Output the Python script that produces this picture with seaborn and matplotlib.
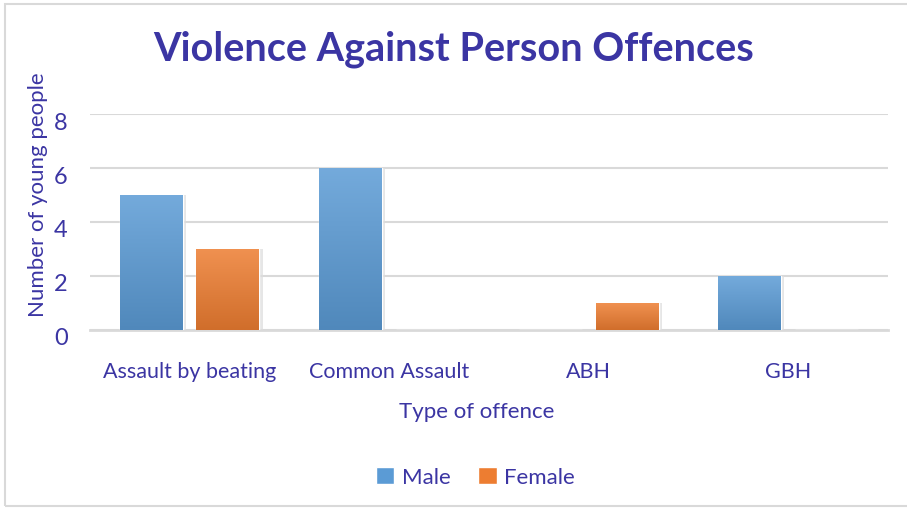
import matplotlib
matplotlib.use("Agg")
import matplotlib.pyplot as plt
import matplotlib.transforms as mtransforms
import seaborn as sns
import pandas as pd
import numpy as np
from matplotlib.patches import Rectangle

categories = ["Assault by beating", "Common Assault", "ABH", "GBH"]
male = [5, 6, 0, 2]
female = [3, 0, 1, 0]
series = ["Male", "Female"]
yticks = [0, 2, 4, 6, 8]

df = pd.DataFrame({
    "offence": categories * 2,
    "count": male + female,
    "sex": ["Male"] * len(categories) + ["Female"] * len(categories),
})

sns.set_theme(style="white")
plt.rcParams["font.family"] = ["Lato", "DejaVu Sans"]
txt = "#3b35a3"

fig = plt.figure(figsize=(9.07, 5.10), dpi=100)
ax = fig.add_axes([0.099, 0.351, 0.880, 0.4235])
palette = {"Male": "#5b9bd5", "Female": "#ed7d31"}
sns.barplot(data=df, x="offence", y="count", hue="sex", order=categories,
            hue_order=series, palette=palette, width=0.77, gap=0.18,
            saturation=1, ax=ax, legend=True, zorder=3)

# gradient overlay on bars
for p in ax.patches:
    h = p.get_height()
    if h <= 0:
        continue
    x0, w = p.get_x(), p.get_width()
    fc = np.array(p.get_facecolor()[:3])
    grad = np.linspace(0, 1, 64)[:, None]
    top = fc + (1 - fc) * 0.15
    bot = fc * 0.88
    img = top[None, None, :] * (1 - grad[..., None]) + bot[None, None, :] * grad[..., None]
    img = np.repeat(img, 2, axis=1)
    ax.imshow(img, extent=[x0, x0 + w, 0, h], aspect="auto", zorder=4, origin="upper")
    ax.add_patch(Rectangle((x0 + w * 0.98, 0), w * 0.07, h, color="#dcdcdc", alpha=0.7, zorder=2, lw=0))

ax.set_xlim(-0.5, 3.5)
ax.set_ylim(0, 8)
ax.set_yticks(yticks)
ax.set_yticklabels([str(v) for v in yticks])
ax.yaxis.grid(True, color="#d9d9d9", linewidth=1.5, zorder=0)
ax.set_axisbelow(True)
for s in ["top", "right", "left"]:
    ax.spines[s].set_visible(False)
ax.spines["bottom"].set_color("#d9d9d9")
ax.spines["bottom"].set_linewidth(2)
ax.spines["bottom"].set_zorder(1)
ax.tick_params(axis="x", length=0, labelsize=15.5, colors=txt, pad=22)
ax.tick_params(axis="y", length=0, labelsize=17, colors=txt, pad=16)
off = mtransforms.ScaledTranslation(0, -6 / 100, fig.dpi_scale_trans)
for lab in ax.get_yticklabels():
    lab.set_transform(lab.get_transform() + off)
ax.set_xlabel("Type of offence", fontsize=16, color=txt)
ax.xaxis.set_label_coords(0.485, -0.33)
ax.set_ylabel("Number of young people", fontsize=16, color=txt)
ax.yaxis.set_label_coords(-0.052, 0.63)

leg = ax.legend(loc="center", bbox_to_anchor=(0.483, -0.68), ncol=2,
                frameon=False, fontsize=16, labelcolor=txt, handlelength=0.85,
                handleheight=0.85, columnspacing=1.2, handletextpad=0.35)

fig.suptitle("Violence Against Person Offences", fontsize=28.5, fontweight="bold",
             color=txt, y=0.94)
fig.patches.append(Rectangle((0.005, 0.006), 1.2, 0.985, transform=fig.transFigure,
                             fill=False, edgecolor="#d9d9d9", linewidth=1.5))
fig.savefig("out.png", dpi=100)
